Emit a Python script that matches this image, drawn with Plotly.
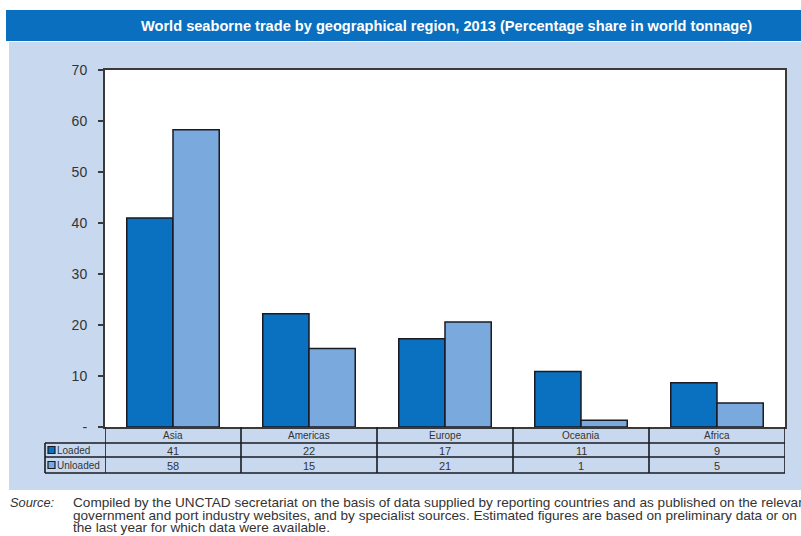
import plotly.graph_objects as go

# ---------------- data ----------------
categories = ["Asia", "Americas", "Europe", "Oceania", "Africa"]
loaded = [41.0, 22.2, 17.3, 10.9, 8.7]
unloaded = [58.3, 15.4, 20.6, 1.3, 4.7]
loaded_labels = ["41", "22", "17", "11", "9"]
unloaded_labels = ["58", "15", "21", "1", "5"]
series_names = ["Loaded", "Unloaded"]
y_tickvals = [0, 10, 20, 30, 40, 50, 60, 70]
y_ticktext = ["-", "10", "20", "30", "40", "50", "60", "70"]
title_text = "World seaborne trade by geographical region, 2013 (Percentage share in world tonnage)"
source_label = "Source:"
source_lines = [
    "Compiled by the UNCTAD secretariat on the basis of data supplied by reporting countries and as published on the relevant",
    "government and port industry websites, and by specialist sources. Estimated figures are based on preliminary data or on",
    "the last year for which data were available.",
]

# ---------------- style ----------------
W, H = 801, 536
L, R, T, B = 105, 785, 70, 427
C_LOAD = "#0A70C0"
C_UNLOAD = "#7AAADD"
C_PANEL = "#C8D9EF"
C_TITLE = "#0A6FBF"
C_EDGE = "#1A1A22"
C_TEXT = "#333333"
SANS = "Liberation Sans, Arial, sans-serif"


def px(x):
    return (x - L) / (R - L)


def py(y):
    return (B - y) / (B - T)


fig = go.Figure()
fig.add_trace(go.Bar(x=categories, y=loaded, name=series_names[0],
                     marker=dict(color=C_LOAD, line=dict(color=C_EDGE, width=1.5))))
fig.add_trace(go.Bar(x=categories, y=unloaded, name=series_names[1],
                     marker=dict(color=C_UNLOAD, line=dict(color=C_EDGE, width=1.5))))

shapes = []
# panel and title bar
shapes.append(dict(type="rect", xref="paper", yref="paper", layer="below",
                   x0=px(9), x1=px(801), y0=py(490), y1=py(42),
                   fillcolor=C_PANEL, line=dict(width=0)))
shapes.append(dict(type="rect", xref="paper", yref="paper", layer="below",
                   x0=px(6), x1=px(801), y0=py(41), y1=py(10),
                   fillcolor=C_TITLE, line=dict(width=0)))
shapes.append(dict(type="rect", xref="paper", yref="paper", layer="below",
                   x0=0, x1=1, y0=0, y1=1, fillcolor="white", line=dict(width=0)))

# data table grid
LW = 1.6
row_y = [427, 443, 457, 473]
for yy in row_y[1:]:
    shapes.append(dict(type="line", xref="paper", yref="paper", x0=px(45), x1=1,
                       y0=py(yy), y1=py(yy), line=dict(color=C_EDGE, width=LW)))
shapes.append(dict(type="line", xref="paper", yref="paper", x0=px(45), x1=px(45),
                   y0=py(443), y1=py(473), line=dict(color=C_EDGE, width=LW)))
for i in range(len(categories) + 1):
    shapes.append(dict(type="line", xref="x", yref="paper", x0=i - 0.5, x1=i - 0.5,
                       y0=py(427), y1=py(473), line=dict(color=C_EDGE, width=LW)))


def ann(x, y, text, size, xref="paper", xanchor="center", color=C_TEXT, family=SANS):
    return dict(x=x, y=y, xref=xref, yref="paper", text=text, showarrow=False,
                xanchor=xanchor, yanchor="middle", borderpad=0,
                font=dict(family=family, size=size, color=color))


annotations = []
for i, c in enumerate(categories):
    annotations.append(ann(i, py(435.5), c, 10, xref="x"))
    annotations.append(ann(i, py(450.5), loaded_labels[i], 11, xref="x"))
    annotations.append(ann(i, py(465.5), unloaded_labels[i], 11, xref="x"))

# legend keys in the table
for name, col, yc in [(series_names[0], C_LOAD, 450), (series_names[1], C_UNLOAD, 465)]:
    shapes.append(dict(type="rect", xref="paper", yref="paper",
                       x0=px(48), x1=px(55), y0=py(yc + 3.5), y1=py(yc - 3.5),
                       fillcolor=col, line=dict(color=C_EDGE, width=1.2)))
    annotations.append(ann(px(56), py(yc), name, 10, xanchor="left"))

# title
annotations.append(ann(px(446), py(26), "<b>" + title_text + "</b>", 14.6, color="white"))

# source
annotations.append(ann(px(9), py(503), "<i>" + source_label + "</i>", 12.8, xanchor="left"))
for j, line in enumerate(source_lines):
    annotations.append(ann(px(72), py(503 + 12.2 * j), line, 13.6, xanchor="left"))

fig.update_layout(
    width=W, height=H,
    margin=dict(l=L, r=W - R, t=T, b=H - B, pad=0),
    paper_bgcolor="white", plot_bgcolor="rgba(0,0,0,0)",
    barmode="group", bargap=0.32, bargroupgap=0,
    showlegend=False,
    shapes=shapes, annotations=annotations,
    xaxis=dict(showticklabels=False, ticks="", showgrid=False, zeroline=False,
               showline=True, mirror=True, linecolor="#3a3a3a", linewidth=2,
               range=[-0.5, len(categories) - 0.5]),
    yaxis=dict(range=[0, 70], tickvals=y_tickvals, ticktext=y_ticktext,
               ticks="outside", ticklen=5, tickcolor="#3a3a3a", tickwidth=1.5,
               ticklabelstandoff=8,
               showgrid=False, zeroline=False, showline=True, mirror=True,
               linecolor="#3a3a3a", linewidth=2,
               tickfont=dict(family=SANS, size=14, color=C_TEXT)),
)

fig.write_html("out.html")
